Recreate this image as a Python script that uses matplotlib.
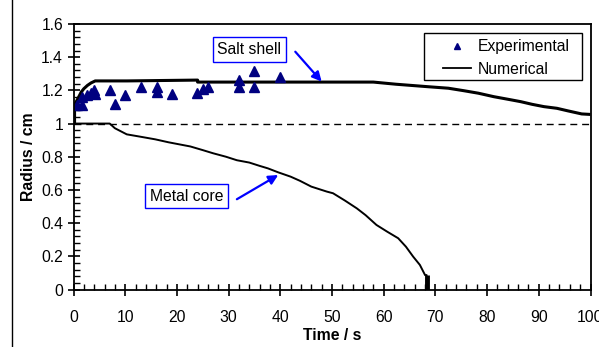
import matplotlib
matplotlib.use("Agg")
import matplotlib.pyplot as plt
from matplotlib.patches import Rectangle
from matplotlib.ticker import MultipleLocator, FuncFormatter

plt.rcParams['font.family'] = ['Liberation Sans', 'DejaVu Sans']

# Numerical salt shell radius
shell_t = [0, 0, 0.5, 1.0, 1.5, 2.0, 2.7, 3.4, 4.2, 10.4, 24.0, 24.0, 58.0, 62.4, 68.6,
           72.5, 75.5, 78.3, 81.3, 84.1, 86.5, 88.7, 91.0, 93.5, 95.7, 98.3, 100]
shell_r = [1.0, 1.10, 1.13, 1.16, 1.19, 1.21, 1.23, 1.245, 1.257, 1.257, 1.262, 1.25, 1.25,
           1.237, 1.222, 1.213, 1.198, 1.183, 1.162, 1.146, 1.132, 1.116, 1.102, 1.092,
           1.076, 1.058, 1.055]

# Numerical metal core radius
core_t = [0, 7.0, 8.0, 10.3, 12.9, 15.8, 18.4, 22.6, 25, 27, 29.5, 31.6, 34, 36, 37.6,
          39.6, 42, 43.8, 46, 49, 50.2, 52.5, 54.8, 56.5, 58.6, 60.7, 62.8, 64.3, 65.7,
          67.0, 68.0, 68.3, 68.3]
core_r = [1.0, 1.0, 0.972, 0.935, 0.921, 0.905, 0.887, 0.862, 0.84, 0.821, 0.80, 0.779,
          0.765, 0.745, 0.73, 0.706, 0.68, 0.655, 0.62, 0.59, 0.58, 0.536, 0.489, 0.448,
          0.389, 0.348, 0.309, 0.258, 0.198, 0.148, 0.087, 0.087, 0.0]

# Experimental shell radius
exp_t = [0.7, 1.7, 1.6, 2.7, 3.4, 4.0, 4.1, 7.0, 8.0, 10.0, 13.0, 16.1, 16.1, 19.0,
         23.8, 25.1, 26.1, 32.0, 32.0, 35.0, 35.0, 39.9]
exp_r = [1.112, 1.11, 1.16, 1.175, 1.185, 1.2, 1.18, 1.203, 1.116, 1.172, 1.219, 1.222,
         1.189, 1.177, 1.183, 1.209, 1.221, 1.263, 1.219, 1.317, 1.219, 1.283]

ref_level = [1.0, 1.0]
x_range = [0, 100]

W, H = 599, 347
fig = plt.figure(figsize=(W / 100, H / 100), dpi=100)
ax = fig.add_axes([73.5 / W, 1 - 289.5 / H, 517 / W, 265.5 / H])

# outer figure frame
fig.add_artist(Rectangle((11.5 / W, -0.2), 1.2, 1.2 + (1 - 9.3 / H), transform=fig.transFigure,
                         fill=False, lw=1.0, edgecolor='black'))

ax.plot(x_range, ref_level, color='black', lw=1.0, ls=(0, (5, 3.5)))
ax.plot(shell_t, shell_r, color='black', lw=2.2, solid_capstyle='butt')
ax.plot(core_t, core_r, color='black', lw=1.4)
ax.plot(core_t[-2:], core_r[-2:], color='black', lw=3.5, solid_capstyle='butt')
ax.plot(shell_t[:2], shell_r[:2], color='black', lw=3.0, solid_capstyle='butt')

ax.plot(exp_t, exp_r, ls='none', marker='^', color='#000080', markersize=6.8,
        label='Experimental')
ax.plot([], [], color='black', lw=1.3, label='Numerical')

ax.set_xlim(0, 100)
ax.set_ylim(0, 1.6)
ax.xaxis.set_major_locator(MultipleLocator(10))
ax.xaxis.set_minor_locator(MultipleLocator(2))
ax.yaxis.set_major_locator(MultipleLocator(0.2))
ax.yaxis.set_minor_locator(MultipleLocator(0.04))
ax.yaxis.set_major_formatter(FuncFormatter(lambda v, p: f"{v:.1f}".rstrip('0').rstrip('.') if v else "0"))

ax.tick_params(which='major', direction='inout', length=9, width=1.2, labelsize=11.3)
ax.tick_params(which='minor', direction='in', length=4, width=1.0)
ax.tick_params(axis='x', which='major', pad=10)
ax.tick_params(axis='y', which='major', pad=3)
for s in ax.spines.values():
    s.set_linewidth(1.3)

ax.set_xlabel('Time / s', fontsize=11.3, fontweight='bold')
ax.set_ylabel('Radius / cm', fontsize=11.3, fontweight='bold')
ax.xaxis.set_label_coords(0.5, -0.145)
ax.yaxis.set_label_coords(-0.072, 0.5)

# legend frame drawn separately to match the reference's padding
fig.add_artist(Rectangle((424 / W, 1 - 80 / H), (581.7 - 424) / W, 46.7 / H,
                         transform=fig.transFigure, fill=False, lw=1.0, edgecolor='black'))
leg = ax.legend(loc='upper left', bbox_to_anchor=(442.7 / W, 1 - 39 / H),
                bbox_transform=fig.transFigure, borderaxespad=0, borderpad=0,
                frameon=False, fontsize=11.3, markerscale=0.6, handlelength=1.83,
                labelspacing=0.5, handletextpad=0.4)

bbox = dict(boxstyle='square,pad=0.3', fc='white', ec='#0000FF', lw=1.0)
arrow = dict(arrowstyle='-|>', color='#0000FF', lw=1.6, mutation_scale=14, shrinkA=0, shrinkB=0)
ax.annotate('', xy=(48.0, 1.253), xytext=(42.9, 1.433), arrowprops=arrow)
ax.annotate('', xy=(39.6, 0.69), xytext=(31.6, 0.544), arrowprops=arrow)
ax.text(34.0, 1.447, 'Salt shell', fontsize=11.3, ha='center', va='center', bbox=bbox)
ax.text(21.9, 0.562, 'Metal core', fontsize=11.3, ha='center', va='center', bbox=bbox)

fig.savefig('out.png', dpi=100)
